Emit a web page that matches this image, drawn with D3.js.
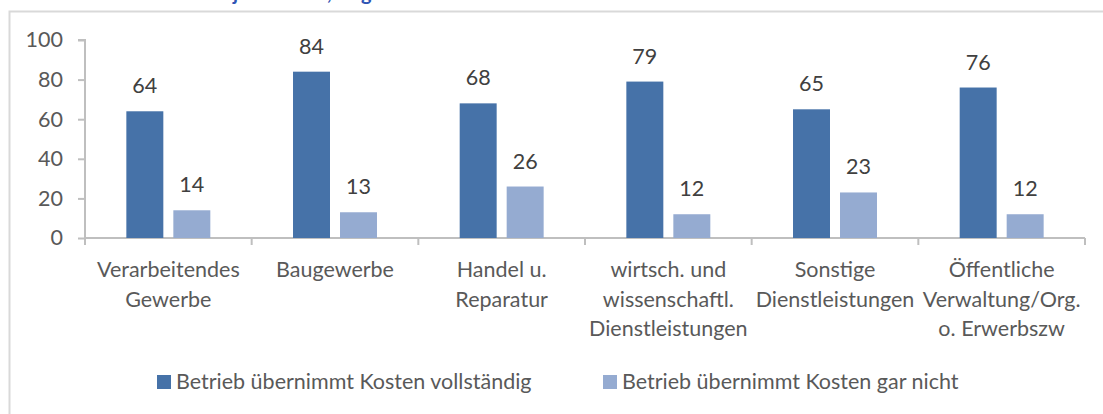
<!DOCTYPE html>
<html>
<head>
<meta charset="utf-8">
<script src="https://cdn.jsdelivr.net/npm/d3@7"></script>
<style>
  body { margin: 0; background: #fff; }
  svg { display: block; font-family: Lato, "Noto Sans", sans-serif; }
</style>
</head>
<body>
<div id="chart"></div>
<script>
// data
const categories = [
    ["Verarbeitendes", "Gewerbe"],
    ["Baugewerbe"],
    ["Handel u.", "Reparatur"],
    ["wirtsch. und", "wissenschaftl.", "Dienstleistungen"],
    ["Sonstige", "Dienstleistungen"],
    ["Öffentliche", "Verwaltung/Org.", "o. Erwerbszw"]
];
const seriesNames = ["Betrieb übernimmt Kosten vollständig", "Betrieb übernimmt Kosten gar nicht"];
const vollstaendig = [64, 84, 68, 79, 65, 76];
const garNicht = [14, 13, 26, 12, 23, 12];
const yTicks = [0, 20, 40, 60, 80, 100];
const colors = ["#4672a8", "#95abd1"];

const W = 1103, H = 414;
const margin = {top: 40, left: 85, right: 18, bottom: 176};
const fs = 21.5;

const svg = d3.select("#chart").append("svg")
    .attr("width", W)
    .attr("height", H);

// clipped title from the page above
svg.append("text")
    .attr("x", 60)
    .attr("y", 0)
    .attr("fill", "#2f55b4")
    .attr("font-weight", "bold")
    .attr("font-size", 20)
    .text("Anteil der Betriebe je Branche, Angaben in Prozent");

// chart frame
svg.append("path")
    .attr("d", "M9.5," + H + "V11.5H" + W)
    .attr("fill", "none")
    .attr("stroke", "#d9d9d9")
    .attr("stroke-width", 2);

const x0 = d3.scaleBand()
    .domain(d3.range(categories.length))
    .range([margin.left, W - margin.right]);

const x1 = d3.scaleBand()
    .domain([0, 1])
    .range([0, x0.bandwidth()])
    .paddingInner(0.213)
    .paddingOuter(0.88);

const y = d3.scaleLinear()
    .domain([0, 100])
    .range([H - margin.bottom, margin.top]);

// y axis
const yAxis = svg.append("g")
    .attr("transform", "translate(" + margin.left + ",0)")
    .call(d3.axisLeft(y).tickValues(yTicks).tickSize(7).tickPadding(15));
yAxis.select(".domain").attr("stroke", "#bfbfbf").attr("stroke-width", 2)
    .attr("d", "M-7," + y(100) + "H0V" + y(0));
yAxis.selectAll(".tick line").attr("stroke", "#bfbfbf").attr("stroke-width", 2);
yAxis.selectAll(".tick text")
    .attr("fill", "#595959")
    .attr("font-size", fs)
    .attr("font-family", "Lato, sans-serif");

// x axis line and category ticks
const xAxis = svg.append("g");
xAxis.append("line")
    .attr("x1", margin.left)
    .attr("x2", W - margin.right)
    .attr("y1", y(0))
    .attr("y2", y(0))
    .attr("stroke", "#bfbfbf")
    .attr("stroke-width", 2);
xAxis.selectAll(".xtick")
    .data(d3.range(categories.length + 1))
    .enter().append("line")
    .attr("x1", d => d < categories.length ? x0(d) : x0(d - 1) + x0.bandwidth())
    .attr("x2", d => d < categories.length ? x0(d) : x0(d - 1) + x0.bandwidth())
    .attr("y1", y(0))
    .attr("y2", y(0) + 7)
    .attr("stroke", "#bfbfbf")
    .attr("stroke-width", 2);

xAxis.selectAll(".cat")
    .data(categories)
    .enter().append("text")
    .attr("class", "cat")
    .attr("text-anchor", "middle")
    .attr("fill", "#595959")
    .attr("font-size", fs)
    .each(function(lines, i) {
        d3.select(this).selectAll("tspan")
            .data(lines)
            .enter().append("tspan")
            .attr("x", x0(i) + x0.bandwidth() / 2)
            .attr("y", (d, j) => 277 + j * 29.5)
            .text(d => d);
    });

// bars
const groups = svg.selectAll(".grp")
    .data(categories.map((c, i) => [vollstaendig[i], garNicht[i]]))
    .enter().append("g")
    .attr("transform", (d, i) => "translate(" + x0(i) + ",0)");

groups.selectAll("rect")
    .data(d => d)
    .enter().append("rect")
    .attr("x", (d, j) => x1(j))
    .attr("width", x1.bandwidth())
    .attr("y", d => y(d))
    .attr("height", d => y(0) - y(d))
    .attr("fill", (d, j) => colors[j]);

groups.selectAll(".lbl")
    .data(d => d)
    .enter().append("text")
    .attr("class", "lbl")
    .attr("x", (d, j) => x1(j) + x1.bandwidth() / 2)
    .attr("y", d => y(d) - 18)
    .attr("text-anchor", "middle")
    .attr("fill", "#404040")
    .attr("font-size", fs)
    .text(d => d);

// legend
const legendX = [157, 603];
const legend = svg.selectAll(".leg")
    .data(seriesNames)
    .enter().append("g")
    .attr("transform", (d, i) => "translate(" + legendX[i] + ",375)");
legend.append("rect")
    .attr("width", 14)
    .attr("height", 14)
    .attr("fill", (d, i) => colors[i]);
legend.append("text")
    .attr("x", 19)
    .attr("y", 14)
    .attr("fill", "#595959")
    .attr("font-size", fs)
    .text(d => d);
</script>
</body>
</html>
